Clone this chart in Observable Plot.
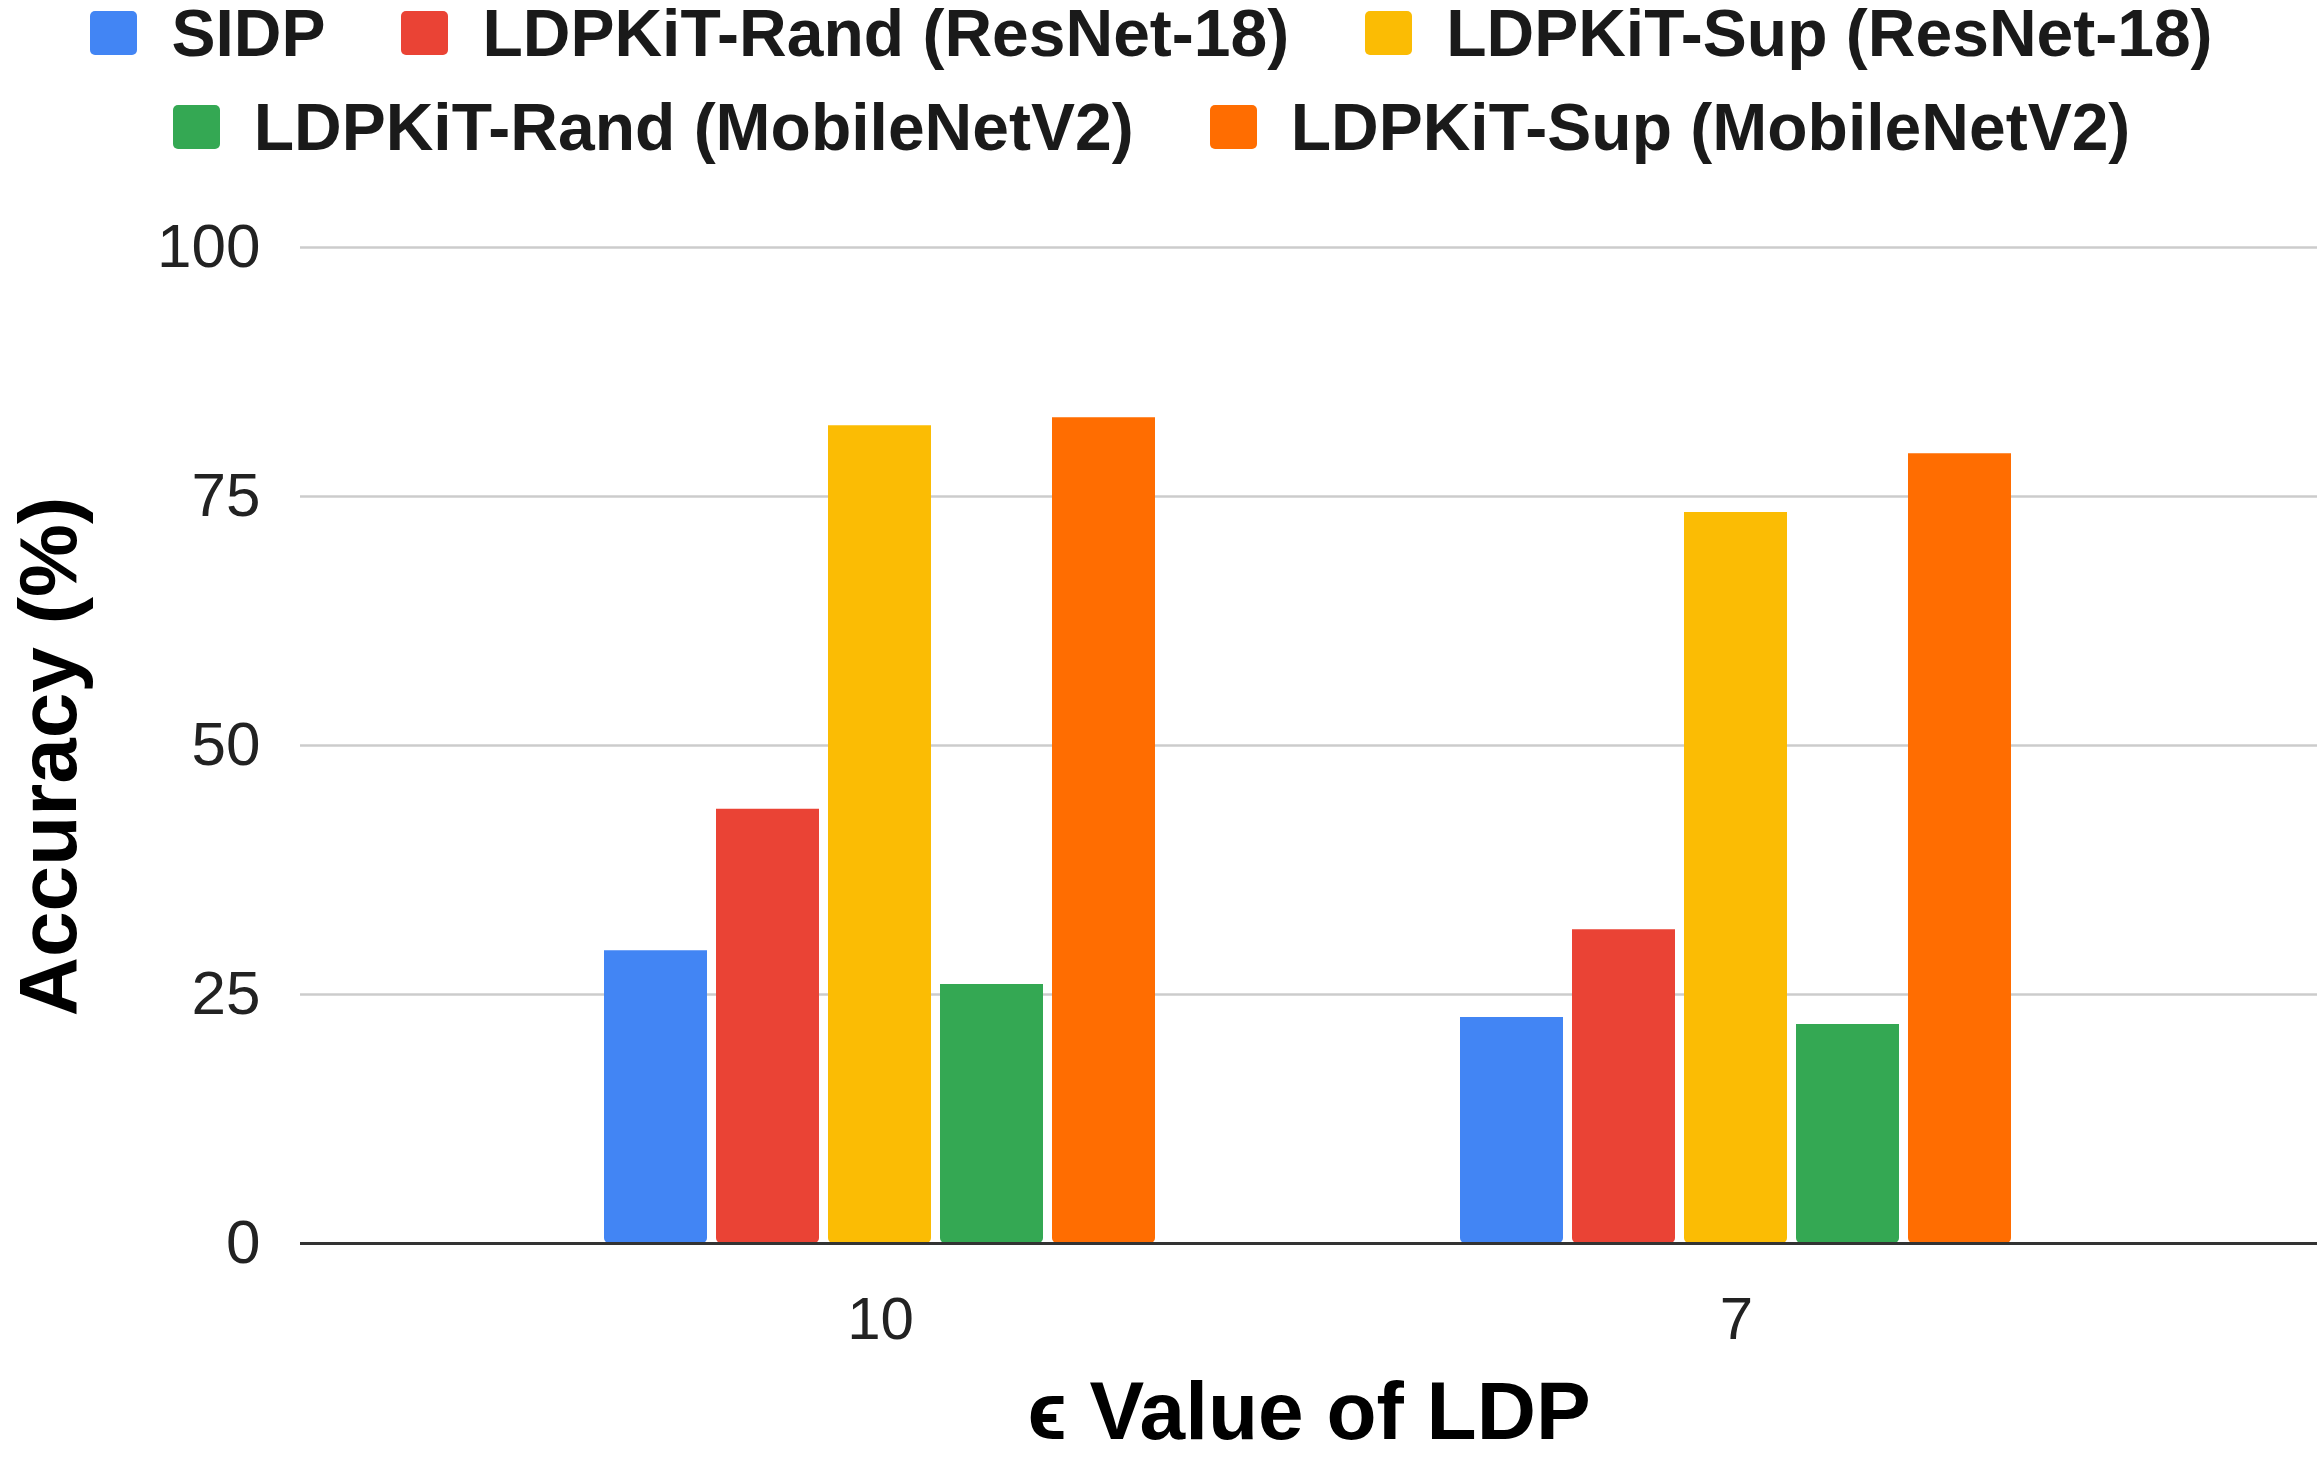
<!DOCTYPE html>
<html>
<head>
<meta charset="utf-8">
<script src="https://cdn.jsdelivr.net/npm/d3@7"></script>
<script src="https://cdn.jsdelivr.net/npm/@observablehq/plot@0.6"></script>
<style>
  html, body { margin: 0; padding: 0; background: #fff; overflow: hidden; }
  #legend { position: relative; width: 2317px; height: 170px; }
  .row { position: absolute; left: 0; right: 14px; height: 66px; display: flex; justify-content: center; align-items: center; gap: 76px; }
  .item { display: flex; align-items: center; gap: 34px; font: bold 66px/66px 'Liberation Sans', Arial, sans-serif; color: #1a1a1a; white-space: nowrap; }
  .sw { width: 47px; height: 44px; border-radius: 5px; }
  #chart { position: relative; width: 2317px; height: 1288px; }
  #chart svg { display: block; position: absolute; left: 0; top: 0; }
</style>
</head>
<body>
<div id="legend"></div>
<div id="chart"></div>
<script>
const epsilons = ["10", "7"];
const series = [
  "SIDP",
  "LDPKiT-Rand (ResNet-18)",
  "LDPKiT-Sup (ResNet-18)",
  "LDPKiT-Rand (MobileNetV2)",
  "LDPKiT-Sup (MobileNetV2)"
];
const colors = ["#4285F4", "#EA4335", "#FBBC04", "#34A853", "#FF6D01"];
const sidp = [29.4, 22.7];
const randResNet = [43.6, 31.5];
const supResNet = [82.1, 73.4];
const randMobile = [26.0, 22.0];
const supMobile = [82.9, 79.3];
const yTicks = [0, 25, 50, 75, 100];
const yTitle = "Accuracy (%)";
const xTitle = "ϵ Value of LDP";
const legendRows = [[0, 1, 2], [3, 4]];

const values = [sidp, randResNet, supResNet, randMobile, supMobile];
const data = epsilons.flatMap((e, i) => series.map((s, j) => ({eps: e, series: s, value: values[j][i]})));

// Legend
const legend = document.getElementById("legend");
const rowTops = [0, 94];
legendRows.forEach((row, r) => {
  const div = document.createElement("div");
  div.className = "row";
  div.style.top = rowTops[r] + "px";
  row.forEach(j => {
    const item = document.createElement("div");
    item.className = "item";
    const sw = document.createElement("div");
    sw.className = "sw";
    sw.style.background = colors[j];
    const label = document.createElement("span");
    label.textContent = series[j];
    item.appendChild(sw);
    item.appendChild(label);
    div.appendChild(item);
  });
  legend.appendChild(div);
});

const common = {
  width: 2317,
  height: 1288,
  marginLeft: 300,
  marginRight: 0,
  marginTop: 77,
  marginBottom: 215
};
const font = "'Liberation Sans', Arial, sans-serif";
const groupPad = 0.355;
const chartDiv = document.getElementById("chart");

// Layer 1: grid, axes, titles
const under = Plot.plot({
  ...common,
  style: {fontFamily: font, background: "white", color: "#222"},
  x: {type: "band", domain: epsilons, paddingInner: groupPad, paddingOuter: groupPad, align: 0.5, label: null},
  y: {domain: [0, 100], label: null},
  marks: [
    Plot.ruleY(yTicks, {stroke: "#cccccc", strokeWidth: 2.5}),
    Plot.axisY(yTicks, {anchor: "left", tickSize: 0, tickPadding: 40, fontSize: 62, label: null, fill: "#222"}),
    Plot.axisX({anchor: "bottom", tickSize: 0, tickPadding: 53, fontSize: 60, label: null, fill: "#222"}),
    Plot.text([yTitle], {frameAnchor: "left", textAnchor: "middle", rotate: -90, dx: -251, dy: 11, fontSize: 82, fontWeight: "bold", fill: "#000"}),
    Plot.text([xTitle], {frameAnchor: "bottom", textAnchor: "middle", dy: 195, fontSize: 82, fontWeight: "bold", fill: "#000"})
  ]
});
chartDiv.appendChild(under);

// Layer 2: grouped bars
const bars = Plot.plot({
  ...common,
  style: {fontFamily: font, background: "transparent"},
  fx: {domain: epsilons, paddingInner: groupPad, paddingOuter: groupPad, align: 0.5, axis: null},
  x: {domain: series, paddingInner: 0.076, paddingOuter: 0, axis: null},
  y: {domain: [0, 100], axis: null},
  color: {domain: series, range: colors},
  marks: [
    Plot.barY(data, {fx: "eps", x: "series", y: "value", fill: "series", ry2: 5})
  ]
});
chartDiv.appendChild(bars);

// Layer 3: baseline
const base = Plot.plot({
  ...common,
  style: {fontFamily: font, background: "transparent"},
  y: {domain: [0, 100], axis: null},
  marks: [
    Plot.ruleY([0], {stroke: "#333333", strokeWidth: 3})
  ]
});
chartDiv.appendChild(base);
</script>
</body>
</html>
